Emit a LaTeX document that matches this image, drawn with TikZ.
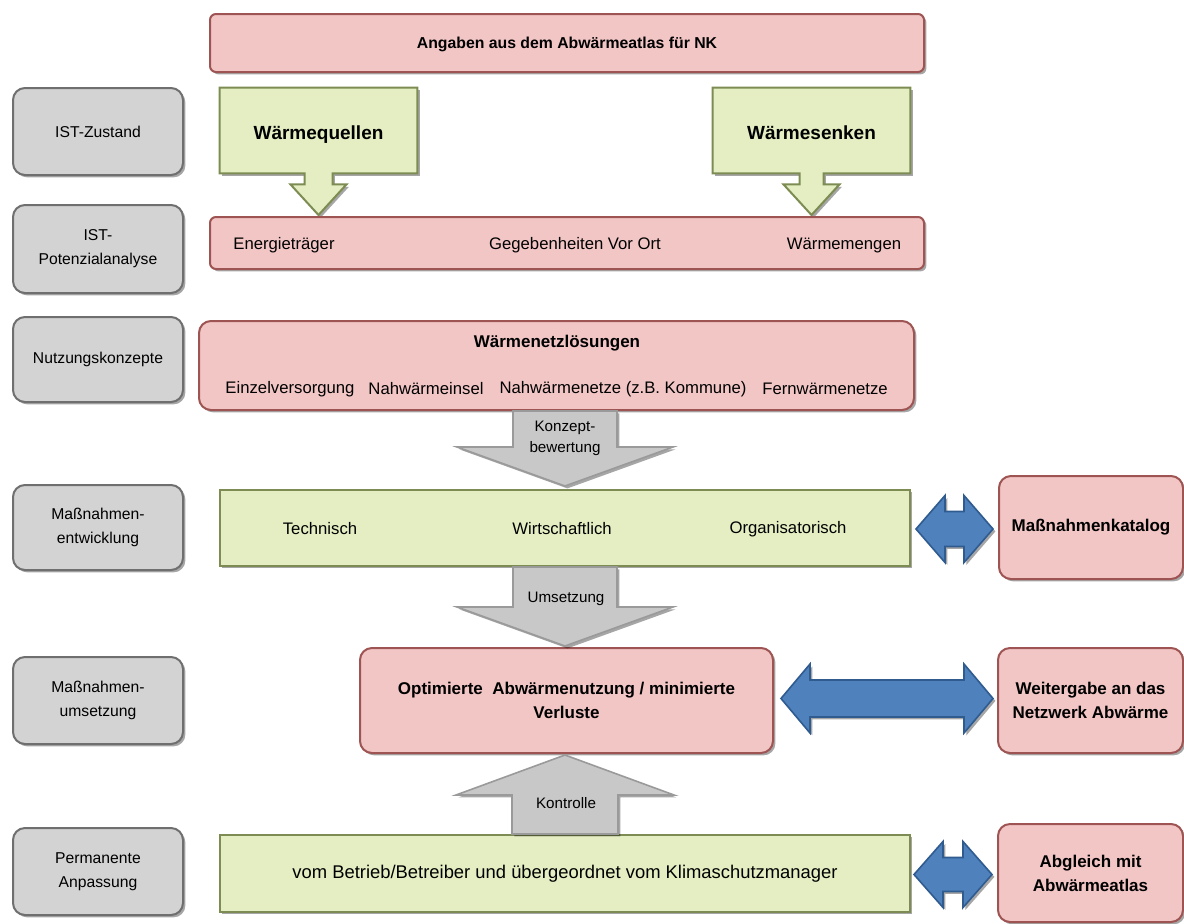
\documentclass[tikz,border=0pt]{standalone}
\usepackage{fontspec}
\setmainfont{Liberation Sans}
\usetikzlibrary{calc,fit,shadows}
\pgfdeclarelayer{bg}
\pgfdeclarelayer{canvas}
\pgfsetlayers{canvas,bg,main}
\definecolor{pinkF}{HTML}{F3C6C6}
\definecolor{pinkD}{HTML}{9E5452}
\definecolor{greenF}{HTML}{E4EEC2}
\definecolor{greenD}{HTML}{7D8C52}
\definecolor{grayF}{HTML}{D3D3D3}
\definecolor{grayD}{HTML}{6F6F6F}
\definecolor{arrF}{HTML}{C8C8C8}
\definecolor{arrD}{HTML}{9A9A9A}
\definecolor{blueF}{HTML}{4F81BD}
\definecolor{blueD}{HTML}{2F5B8F}
\newcommand\fs[2]{\fontsize{#1pt}{#2pt}\selectfont}
\newcommand\dblarr[5]{%
  \path[barrow] (#1) -- ($(#1)+(#3,-#5)$) -- ($(#1)+(#3,-#4)$) -- ($(#2)+(-#3,-#4)$)
   -- ($(#2)+(-#3,-#5)$) -- (#2) -- ($(#2)+(-#3,#5)$) -- ($(#2)+(-#3,#4)$)
   -- ($(#1)+(#3,#4)$) -- ($(#1)+(#3,#5)$) -- cycle;}
\tikzset{
  shad/.style={drop shadow={shadow xshift=1.2pt, shadow yshift=-1.2pt, opacity=0.35, fill=black}},
  tnorm/.style={font=\fs{8.35}{11}},
  tlab/.style={font=\fs{7.85}{12}},
  tbold/.style={font=\bfseries\fs{8.5}{12}},
  tarr/.style={font=\fs{7.6}{10.5}},
  lab/.style={fill=grayF, draw=grayD, line width=1pt, rounded corners=6pt, shad},
  pinkbox/.style={fill=pinkF, draw=pinkD, line width=1pt, rounded corners=3pt, shad},
  pinkround/.style={fill=pinkF, draw=pinkD, line width=1pt, rounded corners=6pt, shad},
  greenbox/.style={fill=greenF, draw=greenD, line width=1pt, shad},
  gcall/.style={fill=greenF, draw=greenD, line width=1pt, shad},
  garrow/.style={fill=arrF, draw=arrD, line width=0.8pt, shad},
  barrow/.style={fill=blueF, draw=blueD, line width=0.8pt, shad},
}
\begin{document}
\begin{tikzpicture}[x=0.5pt,y=-0.5pt, every node/.style={inner sep=0pt, align=center}]
\begin{pgfonlayer}{canvas}
\fill[white] (0,0) rectangle (1184,923);
\end{pgfonlayer}
\useasboundingbox (0,0) rectangle (1184,923);

% left column labels
\node[lab, fit={(13,88)(183,175)}] (l1) {};
\node[tlab] (l1t) at (l1) {IST-Zustand};
\node[lab, fit={(13,205)(183,293)}] (l2) {};
\node[tlab] (l2t) at (l2) {IST-\\Potenzialanalyse};
\node[lab, fit={(13,317)(183,402)}] (l3) {};
\node[tlab] (l3t) at (l3) {Nutzungskonzepte};
\node[lab, fit={(13,485)(183,570)}] (l4) {};
\node[tlab] (l4t) at (l4) {Maßnahmen-\\entwicklung};
\node[lab, fit={(13,657)(183,744)}] (l5) {};
\node[tlab] (l5t) at (l5) {Maßnahmen-\\umsetzung};
\node[lab, fit={(13,828)(183,915)}] (l6) {};
\node[tlab] (l6t) at (l6) {Permanente\\Anpassung};

% row 1
\node[pinkbox, fit={(210,14)(924,72)}] (p1) {};
\node[font=\bfseries\fs{7.9}{11}] (p1t) at ($(p1)+(0,1)$) {Angaben aus dem Abwärmeatlas für NK};

% row 2
\node[pinkbox, fit={(210,217)(924,269)}] (p2) {};
\node[tnorm] (e1) at (284,245) {Energieträger};
\node[tnorm] (e2) at (575,245) {Gegebenheiten Vor Ort};
\node[tnorm] (e3) at (844,245) {Wärmemengen};

% green callouts
\node[fit={(220,88)(417,173)}] (wq) {};
\node[font=\bfseries\fs{9.5}{12}] (wqt) at ($(wq)+(0,4)$) {Wärmequellen};
\node[fit={(713,88)(910,173)}] (ws) {};
\node[font=\bfseries\fs{9.5}{12}] (wst) at ($(ws)+(0,2)$) {Wärmesenken};
\coordinate (tq) at ($(wq.south |- p2.north)+(0,-1)$);
\coordinate (ts) at ($(ws.south |- p2.north)+(0,-1)$);
\begin{pgfonlayer}{bg}
\path[gcall] (wq.north west) -- (wq.north east) -- (wq.south east)
  -- ($(wq.south)+(14,0)$) -- ($(wq.south)+(14,11)$) -- ($(wq.south)+(28,11)$)
  -- (tq) -- ($(wq.south)+(-28,11)$) -- ($(wq.south)+(-14,11)$)
  -- ($(wq.south)+(-14,0)$) -- (wq.south west) -- cycle;
\path[gcall] (ws.north west) -- (ws.north east) -- (ws.south east)
  -- ($(ws.south)+(12,0)$) -- ($(ws.south)+(12,11)$) -- ($(ws.south)+(28,11)$)
  -- (ts) -- ($(ws.south)+(-28,11)$) -- ($(ws.south)+(-12,11)$)
  -- ($(ws.south)+(-12,0)$) -- (ws.south west) -- cycle;
\end{pgfonlayer}

% row 3
\node[pinkround, fit={(199,321)(914,410)}] (p3) {};
\node[tbold] (n0) at (557,343) {Wärmenetzlösungen};
\node[tnorm] (n1) at (290,389) {Einzelversorgung};
\node[tnorm] (n2) at (426,389) {Nahwärmeinsel};
\node[tnorm] (n3) at (623,389) {Nahwärmenetze (z.B. Kommune)};
\node[tnorm] (n4) at (825,389) {Fernwärmenetze};

% row 4
\node[greenbox, fit={(220,490)(910,566)}] (g4) {};
\node[tnorm] (m1) at (320,529) {Technisch};
\node[tnorm] (m2) at (562,529) {Wirtschaftlich};
\node[tnorm] (m3) at (788,529) {Organisatorisch};
\node[pinkround, fit={(999,476)(1183,579)}] (kat) {};
\node[tbold] (katt) at (kat) {Maßnahmenkatalog};

% row 5
\node[pinkround, fit={(360,648)(773,753)}] (opt) {};
\node[tbold] (optt) at (opt) {Optimierte\ \ Abwärmenutzung / minimierte\\Verluste};
\node[pinkround, fit={(998,648)(1183,753)}] (wei) {};
\node[tbold] (weit) at (wei) {Weitergabe an das\\Netzwerk Abwärme};

% row 6
\node[greenbox, fit={(220,835)(910,912)}] (g6) {};
\node[font=\fs{9.2}{12}] (g6t) at (g6) {vom Betrieb/Betreiber und übergeordnet vom Klimaschutzmanager};
\node[pinkround, fit={(998,824)(1183,922)}] (abg) {};
\node[tbold] (abgt) at (abg) {Abgleich mit\\Abwärmeatlas};

% gray block arrows
\coordinate (ka) at (g4.north |- p3.south);
\coordinate (kt) at ($(g4.north)+(0,-3)$);
\path[garrow] ($(ka)+(-52,0)$) -- ($(kt)+(-52,-39)$) -- ($(kt)+(-108,-39)$) -- (kt)
  -- ($(kt)+(108,-39)$) -- ($(kt)+(52,-39)$) -- ($(ka)+(52,0)$) -- cycle;
\node[tarr] (kl) at (565,438) {Konzept-\\bewertung};

\coordinate (ua) at (g4.south);
\coordinate (ut) at ($(g4.south |- opt.north)+(0,-1)$);
\path[garrow] ($(ua)+(-52,0)$) -- ($(ut)+(-52,-39)$) -- ($(ut)+(-108,-39)$) -- (ut)
  -- ($(ut)+(108,-39)$) -- ($(ut)+(52,-39)$) -- ($(ua)+(52,0)$) -- cycle;
\node[tarr] (ul) at (566,599) {Umsetzung};

\coordinate (ca) at (g6.north);
\coordinate (ct) at ($(g6.north |- opt.south)+(0,1)$);
\path[garrow] ($(ca)+(-53,0)$) -- ($(ct)+(-53,40)$) -- ($(ct)+(-109,40)$) -- (ct)
  -- ($(ct)+(109,40)$) -- ($(ct)+(53,40)$) -- ($(ca)+(53,0)$) -- cycle;
\node[tarr] (cl) at (566,803) {Kontrolle};

% blue double arrows
\coordinate (b1l) at ($(g4.east)+(5,1)$);
\coordinate (b1r) at ($(b1l -| kat.west)+(-5,0)$);
\dblarr{b1l}{b1r}{29}{17.5}{33.5}
\coordinate (b2l) at ($(opt.east)+(7,-2)$);
\coordinate (b2r) at ($(b2l -| wei.west)+(-4,0)$);
\dblarr{b2l}{b2r}{29}{18.5}{34.5}
\coordinate (b3l) at ($(g6.east)+(3,1)$);
\coordinate (b3r) at ($(b3l -| abg.west)+(-5,0)$);
\dblarr{b3l}{b3r}{29}{17}{33}
\end{tikzpicture}
\end{document}
